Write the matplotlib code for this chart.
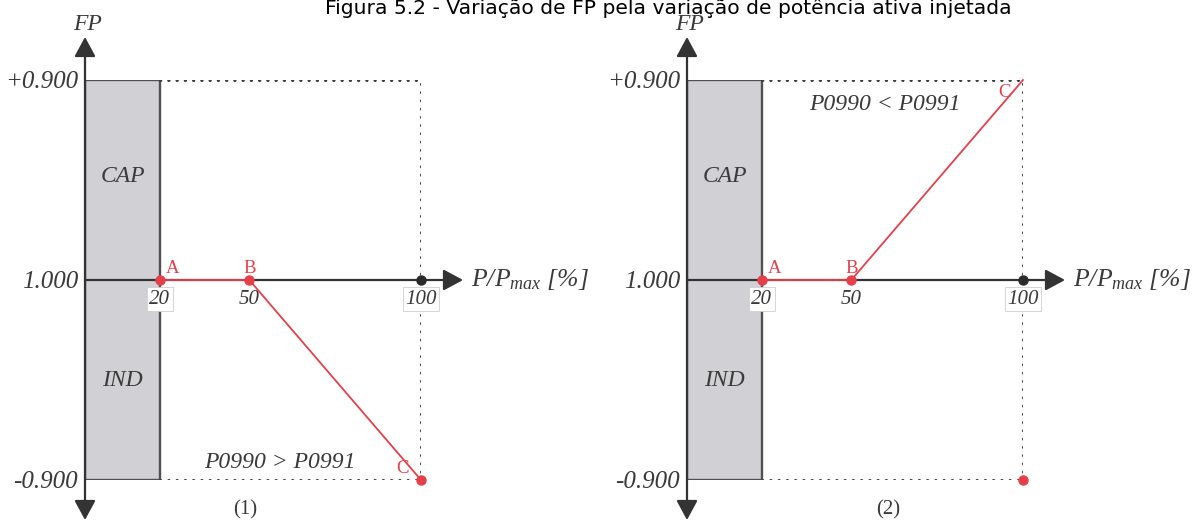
import numpy as np
import matplotlib
matplotlib.use("Agg")
import matplotlib.pyplot as plt
from matplotlib.patches import Rectangle

plt.rcParams["mathtext.fontset"] = "custom"
plt.rcParams["mathtext.rm"] = "Liberation Serif:italic"
plt.rcParams["mathtext.it"] = "Liberation Serif:italic"

# P/Pmax (%) at the curve points A, B, C
power_pct = [20, 50, 100]
point_names = ["A", "B", "C"]
# power factor reached at each point, per case
fp_case1 = ["1.000", "1.000", "-0.900"]
fp_case2 = ["1.000", "1.000", "+0.900"]
case_names = ["(1)", "(2)"]
case_notes = ["P0990 > P0991", "P0990 < P0991"]

fp_levels = ["-0.900", "1.000", "+0.900"]
x_ticks = [20, 50, 100]
boxed_ticks = [20, 100]

TEXT = "#3a3a3a"
AXIS = "#333333"
RED = "#e5404a"
SERIF = "Liberation Serif"

# sketch-style horizontal axis: the 0-20 band is drawn wider than 20-50
_data_pts = [-100, 0, 20, 50, 100, 300]
_draw_pts = [-110, 0, 22.3, 48.9, 100, 300]


def fwd(x):
    return np.interp(x, _data_pts, _draw_pts)


def inv(x):
    return np.interp(x, _draw_pts, _data_pts)


def fp_pos(label):
    return fp_levels.index(label) - 1


W, H = 1195, 521
fig = plt.figure(figsize=(W / 100, H / 100), dpi=100)

fig.text(325 / W, 1 - 13.5 / H,
         "Figura 5.2 - Variação de FP pela variação de potência ativa injetada",
         ha="left", va="baseline", fontsize=14.6, family="DejaVu Sans", color="black")


def draw_panel(left_px, fp_curve, note, note_xy, case_label, case_x, c_offset, extra_dot):
    ax = fig.add_axes([left_px / W, (H - 480) / H, 336 / W, 400 / H])
    ax.set_xscale("function", functions=(fwd, inv))
    ax.set_xlim(0, 100)
    ax.set_ylim(-1, 1)
    for s in ax.spines.values():
        s.set_visible(False)
    ax.spines["bottom"].set_position(("data", 0))

    # reactive band: capacitive above, inductive below
    ax.add_patch(Rectangle((0, -1), 20, 2, facecolor="#d1d1d5", edgecolor="#505050",
                           lw=1.7, zorder=1))
    ax.text(10, 0.52, "CAP", ha="center", va="center", fontsize=17, style="italic",
            family=SERIF, color=TEXT)
    ax.text(10, -0.5, "IND", ha="center", va="center", fontsize=17, style="italic",
            family=SERIF, color=TEXT)

    # dotted limits
    dots = dict(color="#3c3c3c", lw=2.2, ls=(0, (0.1, 2.6)), dash_capstyle="round", zorder=1)
    ax.plot([20, 100], [1, 1], **dots)
    ax.plot([20, 100], [-1, -1], **dots)
    ax.plot([100, 100], [-1, 1], **dots)

    # axes with arrows
    arrow = dict(arrowstyle="-|>,head_length=0.5,head_width=0.27", lw=1.6, color=AXIS,
                 shrinkA=0, shrinkB=0, mutation_scale=24)
    ax.annotate("", xy=(112.5, 0), xytext=(0, 0), arrowprops=arrow, annotation_clip=False,
                zorder=2)
    ax.annotate("", xy=(0, 1.215), xytext=(0, 0), arrowprops=arrow, annotation_clip=False,
                zorder=2)
    ax.annotate("", xy=(0, -1.2), xytext=(0, 0), arrowprops=arrow, annotation_clip=False,
                zorder=2)
    ax.text(0.6, 1.28, "FP", ha="center", va="center", fontsize=17, style="italic",
            family=SERIF, color=TEXT)
    ax.text(114.8, 0.0, r"$P/P_{max}$ [%]", ha="left", va="center", fontsize=18.5,
            style="italic", family=SERIF, color=TEXT, clip_on=False)

    # ticks
    ax.set_yticks([fp_pos(v) for v in fp_levels], fp_levels)
    ax.set_xticks(x_ticks, [str(v) for v in x_ticks])
    ax.tick_params(length=0)
    ax.tick_params(axis="y", pad=5, labelsize=18, labelcolor=TEXT)
    ax.tick_params(axis="x", pad=7, labelsize=15, labelcolor=TEXT)
    for lbl in ax.get_yticklabels() + ax.get_xticklabels():
        lbl.set_family(SERIF)
        lbl.set_style("italic")
    for lbl, v in zip(ax.get_xticklabels(), x_ticks):
        if v in boxed_ticks:
            lbl.set_bbox(dict(facecolor="white", edgecolor="#cfcfcf", lw=0.6,
                              boxstyle="square,pad=0.12"))

    # curve
    ys = [fp_pos(v) for v in fp_curve]
    ax.plot(power_pct, ys, color=RED, lw=1.3, zorder=3, clip_on=False)
    ax.plot(100, 0, "o", color="#2a2a2a", ms=6.5, zorder=4, clip_on=False)
    dot_idx = [0, 1] if extra_dot else [0, 1, 2]
    ax.plot([power_pct[i] for i in dot_idx], [ys[i] for i in dot_idx], "o", color=RED,
            ms=6.5, zorder=4, clip_on=False)
    if extra_dot:
        ax.plot(100, -1, "o", color=RED, ms=6.5, zorder=4, clip_on=False)

    offsets = [((4, 2), "left", "bottom"), ((0, 2), "center", "bottom"), c_offset]
    for name, x, y, (off, ha, va) in zip(point_names, power_pct, ys, offsets):
        ax.annotate(name, (x, y), xytext=off, textcoords="offset points", ha=ha, va=va,
                    fontsize=13.5, family=SERIF, color=RED, annotation_clip=False)

    ax.text(note_xy[0], note_xy[1], note, ha="center", va="center", fontsize=17,
            style="italic", family=SERIF, color=TEXT)
    ax.text(case_x, -1.15, case_label, ha="center", va="center", fontsize=15,
            family=SERIF, color=TEXT, clip_on=False)


draw_panel(85, fp_case1, case_notes[0], (58.9, -0.91), case_names[0], 48.7,
           ((-9, 2), "right", "bottom"), False)
draw_panel(687, fp_case2, case_notes[1], (59.8, 0.875), case_names[1], 60.6,
           ((-9, -3), "right", "top"), True)

fig.savefig("out.png", dpi=100)
